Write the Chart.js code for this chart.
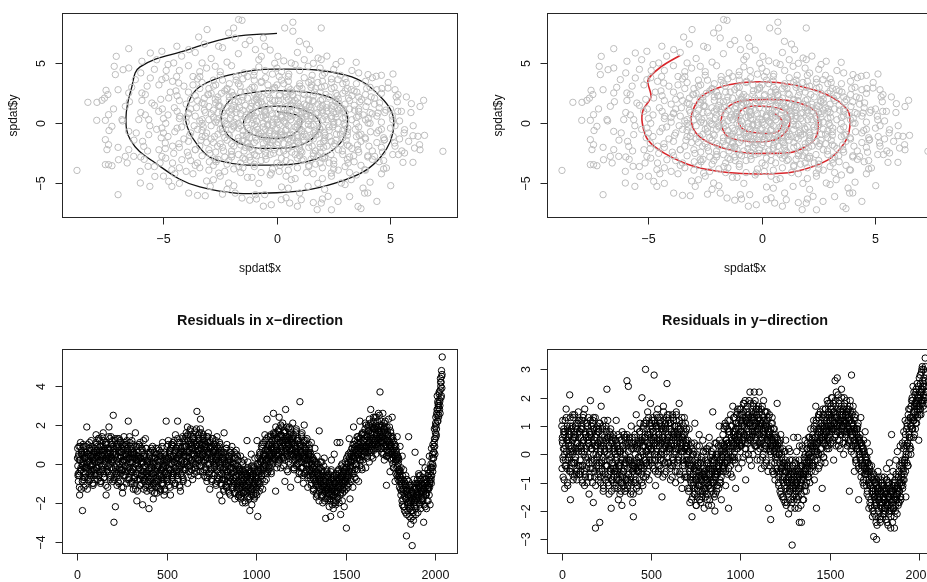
<!DOCTYPE html>
<html>
<head>
<meta charset="utf-8">
<script src="https://cdn.jsdelivr.net/npm/chart.js@4.4.1/dist/chart.umd.min.js"></script>
<style>
  body { margin: 0; background: #fff; overflow: hidden; }
  #wrap { position: relative; width: 927px; height: 582px; overflow: hidden; background: #fff; }
  canvas { position: absolute; }
</style>
</head>
<body>
<div id="wrap">
  <canvas id="spiralFit" width="463" height="290" style="left:0;top:0"></canvas>
  <canvas id="curveFit" width="500" height="290" style="left:463px;top:0"></canvas>
  <canvas id="resX" width="463" height="292" style="left:0;top:290px"></canvas>
  <canvas id="resY" width="500" height="292" style="left:463px;top:290px"></canvas>
</div>
<script>
// point cloud (spdat$x, spdat$y)
const cloudPts = [
  [-8.81,-3.92],[-8.33,1.75],[-7.93,1.75],[-7.71,1.92],[-7.6,2.1],[-7.45,2.4],[-7.53,2.75],[-7.94,0.25],[-7.56,0.25],[-7.42,0.72],
  [-7.27,-0.25],[-7.56,-1.36],[-7.42,-1.78],[-7.49,-2.19],[-7.42,-3.44],[-7.27,-3.53],[-7.56,-3.44],[-6.98,-3.03],[-7.0,-5.94],[-7.12,4.06],
  [-7.08,5.58],[-7.17,4.75],[-6.78,4.47],[-6.53,4.61],[-6.53,6.22],[-6.24,3.64],[-6.53,2.53],[-6.68,1.42],[-6.83,0.31],[-6.53,-0.67],
  [-6.53,-2.19],[-6.68,-2.75],[-6.31,-2.75],[-6.02,-4.0],[-6.02,-4.97],[-5.6,-5.25],[-5.38,-4.42],[-5.68,-3.58],[-5.87,-1.92],[-5.65,-0.94],
  [-6.09,0.31],[-5.65,0.31],[-5.51,1.69],[-5.95,2.53],[-5.58,3.78],[-5.95,5.17],[-5.58,5.86],[-5.07,6.0],[-4.55,5.03],[-4.41,6.42],
  [-5.07,3.64],[-4.77,2.11],[-5.21,1.0],[-5.07,-0.39],[-4.92,-1.64],[-5.07,-2.75],[-4.63,-3.86],[-4.77,-4.83],[-3.89,-5.81],[-3.16,-6.03],
  [-3.6,-2.19],[-3.89,0.86],[-4.33,3.36],[-3.45,7.19],[-3.08,7.81],[-3.89,6.14],[-3.3,5.03],[-2.72,4.75],[-2.13,7.53],[-1.91,7.94],
  [-1.69,8.64],[-1.54,8.58],[-1.84,7.11],[-2.57,6.42],[-1.4,6.56],[-0.95,6.14],[-3.01,2.39],[-2.57,1.42],[-3.16,-1.08],[-2.72,-3.03],
  [-2.57,-4.14],[-2.13,-4.97],[-1.54,-6.22],[-1.84,-5.81],[-0.95,-5.94],[-2.57,0.03],[-3.3,0.31],[-4.19,-3.03],[-4.63,-5.25],[-2.94,-5.25],
  [0.7,8.42],[0.34,7.94],[0.7,7.67],[1.95,7.94],[0.99,6.83],[1.44,6.14],[1.81,5.44],[1.95,5.31],[2.83,5.17],[3.49,5.08],
  [5.11,4.11],[4.37,3.92],[4.01,4.06],[4.89,2.94],[5.33,2.39],[5.92,1.64],[6.46,1.92],[5.48,1.0],[5.62,-0.53],[5.99,-1.03],
  [6.21,-1.08],[6.28,-1.78],[6.06,-2.06],[5.62,-2.47],[5.55,-3.25],[5.99,-3.25],[7.31,-2.33],[5.01,-5.19],[4.82,-3.72],[4.3,-2.75],
  [3.86,-3.86],[3.57,-2.19],[3.27,-4.69],[3.79,-5.39],[3.86,-5.81],[3.57,-6.92],[2.69,-6.5],[2.25,-6.08],[1.95,-6.64],[1.77,-7.19],
  [1.07,-6.36],[0.56,-6.64],[0.19,-6.36],[-0.25,-6.78],[-0.54,-5.94],[2.83,-4.97],[3.13,-3.31],[2.39,-4.14],[2.1,-2.75],[1.37,-5.25],
  [0.63,-4.69],[-0.25,-4.14],[4.45,0.86],[4.01,0.03],[4.74,-1.36],[5.18,-1.64],[3.72,1.97],[3.27,2.81],[2.69,3.64],[2.1,4.19],
  [1.37,4.75],[0.63,5.03],[0.04,5.58],[-0.54,6.42],[-0.69,5.58],
  [-4.2,5.6],[-3.6,5.9],[-2.9,5.4],[-2.4,6.3],[-1.7,5.8],[-1.2,6.9],[-0.8,5.3],[-0.3,6.1],[0.3,5.2],[0.9,5.9],
  [1.6,5.0],[2.2,5.6],[-5.3,5.3],[-4.8,4.9],[-3.2,6.6],[-0.6,7.1],[1.3,6.6],[2.6,4.9],
  [-6.0,4.2],[-5.4,4.5],[-4.9,3.8],[-4.3,4.4],[-3.7,3.9],[-3.1,4.6],[-2.5,4.0],[-2.0,4.8],[-1.5,3.7],[-1.0,4.3],
  [-0.5,3.8],[0.0,4.6],[0.5,3.9],[1.0,4.4],[1.5,3.6],[2.0,4.0],[2.5,4.5],[3.0,3.7],[3.6,4.2],[4.2,3.8],
  [4.6,4.0],[-2.8,3.6],[-0.2,4.1],[1.2,3.8],[3.3,4.4],[-3.9,4.8],[-1.8,3.9],
  [-7.0,2.8],[-6.4,3.0],[-5.8,2.4],[-5.2,3.2],[-4.7,2.6],[-4.1,3.1],[-3.6,2.3],[-3.0,2.9],[-2.6,2.2],[-2.1,3.3],
  [-1.6,2.6],[-1.1,3.0],[-0.7,2.2],[-0.2,2.8],[0.3,3.3],[0.7,2.4],[1.1,2.9],[1.6,2.3],[2.1,3.1],[2.6,2.5],
  [3.1,2.9],[3.6,2.2],[4.1,3.0],[4.6,2.5],[5.2,2.8],[5.7,2.2],[-1.3,2.1],[0.1,2.3],[1.4,3.4],[2.9,3.3],
  [-3.3,3.4],[-0.4,3.2],[0.9,2.1],[3.9,2.4],[-2.3,2.7],[1.9,2.6],
  [-7.2,1.2],[-6.5,1.8],[-6.0,0.9],[-5.4,1.5],[-4.8,0.7],[-4.3,1.9],[-3.8,1.2],[-3.3,1.7],[-2.9,0.8],[-2.5,1.4],
  [-2.1,1.9],[-1.8,0.9],[-1.4,1.5],[-1.0,0.6],[-0.7,1.8],[-0.3,1.1],[0.1,1.6],[0.4,0.8],[0.8,1.9],[1.1,1.2],
  [1.5,0.6],[1.8,1.6],[2.2,1.0],[2.6,1.8],[3.0,0.9],[3.4,1.5],[3.8,0.7],[4.3,1.6],[4.8,1.1],[5.3,1.8],
  [5.9,0.9],[6.3,1.4],[-0.5,0.7],[0.6,1.4],[1.4,1.9],[2.4,0.6],[-1.2,1.2],[-2.3,0.6],[3.2,1.9],[-3.6,0.6],
  [0.2,0.5],[1.9,1.3],[-0.9,1.5],[2.8,1.3],
  [-7.4,-0.6],[-6.8,0.2],[-6.2,-0.8],[-5.6,-0.2],[-5.0,0.4],[-4.5,-0.7],[-4.0,0.1],[-3.5,-0.5],[-3.0,0.3],[-2.6,-0.9],
  [-2.2,-0.1],[-1.8,0.4],[-1.5,-0.6],[-1.1,0.0],[-0.7,-0.8],[-0.4,0.3],[0.0,-0.4],[0.3,0.2],[0.7,-0.7],[1.0,0.1],
  [1.4,-0.5],[1.7,0.4],[2.1,-0.8],[2.5,-0.1],[2.9,-0.6],[3.3,0.3],[3.7,-0.9],[4.1,0.0],[4.6,-0.5],[5.1,0.3],
  [5.6,-0.8],[6.0,-0.2],[6.5,-1.0],[-0.1,-0.9],[0.5,-0.2],[1.2,-0.9],[-0.9,-0.3],[2.2,0.3],[-2.0,-0.5],[3.0,-0.2],
  [-3.8,-0.8],[1.6,-0.1],[-1.3,-0.9],[0.9,0.4],
  [-7.0,-2.0],[-6.3,-1.4],[-5.7,-2.3],[-5.1,-1.2],[-4.6,-1.9],[-4.1,-1.3],[-3.6,-2.2],[-3.1,-1.6],[-2.7,-2.4],[-2.3,-1.2],
  [-1.9,-1.9],[-1.5,-1.4],[-1.1,-2.2],[-0.7,-1.1],[-0.3,-1.8],[0.1,-1.3],[0.5,-2.1],[0.9,-1.5],[1.3,-1.1],[1.7,-2.3],
  [2.1,-1.4],[2.5,-1.9],[2.9,-1.2],[3.3,-2.1],[3.7,-1.5],[4.2,-2.3],[4.7,-1.2],[5.2,-1.9],[5.8,-1.5],[6.3,-2.2],
  [-0.5,-2.4],[0.3,-1.7],[1.1,-2.4],[-1.3,-1.6],[2.3,-1.1],[-2.5,-1.7],[3.5,-1.1],[0.7,-1.2],[-0.1,-2.2],[1.9,-1.7],
  [-6.6,-3.3],[-6.0,-2.8],[-5.4,-3.6],[-4.9,-2.9],[-4.3,-3.7],[-3.8,-3.1],[-3.3,-2.7],[-2.8,-3.5],[-2.3,-2.8],[-1.9,-3.8],
  [-1.4,-3.0],[-1.0,-3.6],[-0.5,-2.7],[0.0,-3.3],[0.5,-3.9],[0.9,-2.9],[1.4,-3.5],[1.8,-2.7],[2.3,-3.3],[2.7,-3.9],
  [3.2,-2.8],[3.7,-3.5],[4.2,-3.0],[4.7,-3.8],[5.1,-2.6],[-0.2,-3.8],[1.1,-3.1],[-1.7,-2.6],[2.0,-3.7],[-3.0,-3.9],
  [-5.0,-4.4],[-4.3,-5.0],[-3.7,-4.2],[-3.1,-4.8],[-2.5,-4.4],[-1.9,-5.2],[-1.3,-4.5],[-0.8,-5.0],[-0.3,-4.3],[0.2,-5.3],
  [0.8,-4.6],[1.3,-4.1],[1.8,-5.0],[2.4,-4.4],[3.0,-5.1],[3.5,-4.3],[4.1,-4.9],[4.6,-4.2],[-1.6,-4.1],[0.5,-5.4],
  [2.1,-5.5],[-2.2,-5.5],
  [-3.5,-6.0],[-2.4,-5.9],[-1.2,-6.4],[-0.6,-6.9],[0.4,-6.2],[1.0,-5.8],[1.6,-6.6],[2.4,-7.2],[3.2,-6.1],[3.7,-7.1],
  [2.0,-6.3],[-0.9,-6.3],[0.9,-6.9],[4.0,-5.8],[4.4,-6.5],
  [-2.8,1.1],[-2.4,-0.4],[-2.0,1.2],[-1.7,-1.2],[-1.6,0.8],[-1.3,0.3],[-1.0,-1.6],[-0.8,2.4],[-0.6,0.0],[-0.4,-1.3],
  [-0.2,1.9],[0.0,0.8],[0.2,-0.7],[0.4,1.9],[0.6,-1.5],[0.8,0.7],[1.0,-0.4],[1.2,1.6],[1.4,0.2],[1.6,-1.3],
  [1.8,0.9],[2.0,-0.3],[2.2,1.6],[2.4,-1.5],[2.6,0.5],[2.8,-0.9],[-2.6,1.9],[-2.2,-1.4],[-1.9,0.1],[-1.5,2.2],
  [-1.2,-0.6],[-0.9,0.9],[-0.5,-0.5],[-0.1,0.4],[0.3,-1.1],[0.6,0.6],[1.0,-1.8],[1.3,0.8],[1.7,-0.7],[2.0,2.0],
  [2.3,-0.6],[2.7,1.1],[-2.9,-1.3],[-0.3,-1.6],[0.7,2.3],[1.5,1.1],[-1.4,-2.0],[0.1,-2.4],[-2.1,2.2],[2.9,0.4],
  [-0.7,0.5],[0.4,0.0],[1.1,0.5],[-1.6,-0.2],[0.9,-1.0],[-0.2,-0.2],[2.5,1.4],[-2.7,0.1],[1.9,-2.0],[-1.0,1.9],
  [-3.4,2.9],[-2.7,3.2],[-2.2,2.9],[-1.7,3.3],[-1.2,2.8],[-0.7,3.4],[-0.1,3.0],[0.5,3.5],[1.0,3.1],[1.5,3.0],
  [2.0,3.5],[2.4,2.9],[3.4,2.7],[4.4,2.8],[-3.9,2.6],[0.2,3.6],[-1.0,3.6],[1.8,3.4],
  [-4.4,2.3],[-3.2,2.1],[-2.9,2.5],[-1.9,2.3],[-1.0,2.5],[-0.4,2.4],[0.4,2.6],[1.2,2.4],[1.7,2.9],[2.3,2.2],
  [2.9,2.5],[3.3,2.3],[4.3,2.1],[-0.9,2.0],[0.6,2.8],[2.7,2.0],[-2.0,2.6],[1.4,2.0],
  [-4.0,1.6],[-3.5,1.9],[-3.0,1.4],[-2.7,1.7],[-2.2,1.3],[-1.7,1.8],[-1.1,1.7],[-0.5,1.4],[-0.1,1.9],[0.3,1.3],
  [0.7,1.7],[1.0,1.4],[1.6,1.8],[2.0,1.5],[2.4,1.2],[3.0,1.6],[3.6,1.2],[4.0,1.8],[4.5,1.3],[-0.3,1.6],
  [1.3,1.5],[-1.9,1.5],[0.5,2.0],[2.7,1.7],
  [-4.4,1.0],[-3.9,0.8],[-3.2,1.1],[-2.6,0.9],[-2.0,0.7],[-1.5,1.1],[-1.1,0.9],[-0.7,1.2],[-0.2,0.8],[0.3,1.1],
  [0.6,0.9],[1.2,1.0],[1.7,0.8],[2.0,1.1],[2.5,0.9],[3.2,1.2],[3.6,1.0],[4.2,0.8],[5.0,1.2],[-0.5,1.0],
  [0.9,1.1],[1.5,1.3],[-1.8,1.2],[2.9,1.0],
  [-4.9,0.0],[-4.3,0.4],[-3.4,0.2],[-2.8,0.5],[-2.3,0.2],[-1.7,0.0],[-1.4,0.5],[-0.9,0.2],[-0.6,0.6],[-0.2,0.1],
  [0.2,0.7],[0.6,0.3],[0.9,-0.1],[1.3,0.6],[1.8,0.2],[2.1,0.6],[2.7,0.1],[3.5,0.5],[3.9,0.3],[4.4,0.6],
  [5.4,0.2],[-0.4,-0.1],[1.1,0.3],[2.4,0.4],[-1.2,0.6],[0.0,0.3],
  [-5.3,-0.5],[-4.2,-0.3],[-3.3,-0.6],[-2.9,-0.2],[-2.4,-0.7],[-1.9,-0.3],[-1.3,-0.4],[-1.0,-0.7],[-0.6,-0.3],[-0.3,-0.6],
  [0.1,-0.1],[0.4,-0.5],[0.8,-0.3],[1.1,-0.6],[1.5,-0.2],[1.9,-0.5],[2.3,-0.3],[2.7,-0.5],[3.1,-0.7],[3.6,-0.3],
  [4.4,-0.8],[5.0,-0.4],[-0.8,-0.9],[0.6,-0.9],[1.8,-0.9],
  [-4.8,-1.1],[-3.9,-1.5],[-3.3,-1.1],[-2.8,-1.6],[-2.1,-1.0],[-1.7,-1.5],[-1.2,-1.2],[-0.9,-1.4],[-0.5,-1.1],[-0.2,-1.4],
  [0.2,-1.0],[0.5,-1.3],[0.9,-1.2],[1.4,-1.6],[1.7,-1.0],[2.1,-1.2],[2.6,-1.4],[3.1,-1.0],[3.9,-1.3],[4.4,-1.6],
  [5.4,-1.3],[-0.1,-1.1],[1.2,-1.4],[-1.5,-1.0],[2.8,-1.7],
  [-5.2,-2.2],[-4.3,-2.0],[-3.4,-1.9],[-3.0,-2.2],[-2.4,-2.0],[-2.0,-2.3],[-1.6,-1.8],[-1.2,-2.0],[-0.8,-2.3],[-0.4,-2.0],
  [0.0,-1.8],[0.3,-2.3],[0.7,-1.9],[1.0,-2.1],[1.4,-2.0],[1.9,-2.4],[2.2,-1.9],[2.7,-2.2],[3.1,-1.8],[3.6,-2.4],
  [4.6,-2.0],[5.5,-2.3],[-0.6,-1.7],[1.6,-2.5],[-1.0,-2.6],[0.8,-2.6],
  [-4.6,-3.3],[-3.9,-2.7],[-3.5,-3.3],[-2.6,-3.0],[-2.0,-2.8],[-1.6,-3.3],[-1.2,-2.8],[-0.7,-3.1],[-0.3,-2.6],[0.2,-2.9],
  [0.6,-3.3],[1.0,-2.7],[1.5,-3.0],[2.0,-2.9],[2.5,-3.1],[2.9,-2.6],[3.4,-3.2],[4.0,-2.7],[4.5,-3.2],[-2.2,-3.4],
  [0.4,-2.6],[1.7,-3.4],[-1.0,-3.4],[3.0,-3.6],
  [-4.0,-4.0],[-3.4,-3.7],[-2.3,-4.0],[-1.5,-3.7],[-0.7,-4.1],[0.1,-4.0],[0.9,-3.7],[1.6,-4.2],[2.5,-3.8],[3.2,-4.1],
  [3.9,-3.9],[-1.1,-4.5],[0.4,-4.4],[2.0,-4.6],[-2.8,-4.7],
  [-4.6,3.5],[-3.5,3.7],[-2.4,3.6],[-1.3,3.9],[-0.8,4.7],[0.2,4.3],[0.8,4.9],[1.9,4.6],[2.8,4.0],[3.9,3.5],
  [-2.2,5.1],[-0.1,5.0],[1.2,5.3],[-3.4,4.3],[2.4,3.4],[4.9,3.4],
  [-3.8,2.0],[-3.65,-0.2],[-3.95,-2.4],[-3.55,1.3],[-3.85,-1.0],[-3.7,3.2],[-4.0,0.5],[-3.6,-3.5],
  [-3.25,-0.3],[-3.05,2.4],[-3.35,-1.4],[-3.15,0.9],[-2.95,-2.5],[-3.4,3.9],[-3.1,-0.8],[-3.2,1.6],[-2.98,-3.2],[-3.3,0.0],
  [-2.65,0.3],[-2.45,2.5],[-2.75,-1.1],[-2.55,1.5],[-2.35,-2.3],[-2.8,3.1],[-2.5,-0.5],[-2.62,-1.9],[-2.4,0.9],[-2.68,-3.2],[-2.5,4.3],[-2.72,2.0],
  [-2.05,0.4],[-2.15,-0.9],[-1.85,1.8],[-2.0,-1.7],[-2.2,2.8],[-1.9,-0.2],[-2.1,1.0],[-2.0,-2.6],[-1.8,3.6],[-2.12,-3.1],[-2.25,0.0],[-1.95,2.3],
  [-1.5,0.2],[-1.35,-1.1],[-1.65,1.3],[-1.45,-2.3],[-1.4,2.6],[-1.7,-0.4],[-1.55,1.9],[-1.3,-1.7],[-1.62,3.1],[-1.5,-2.9],[-1.35,0.7],[-1.68,-3.6],[-1.45,4.2],
  [-1.05,0.3],[-0.85,-0.5],[-1.15,1.4],[-0.95,-1.2],[-0.88,2.2],[-1.2,-1.9],[-1.0,3.0],[-0.9,-2.7],[-1.12,0.8],[-0.98,-0.1],[-0.82,1.7],[-1.18,-3.1],[-1.02,4.0],
  [-0.5,0.4],[-0.35,-0.8],[-0.65,1.6],[-0.45,-1.5],[-0.38,2.7],[-0.62,-2.1],[-0.55,1.0],[-0.42,-0.2],[-0.68,3.5],[-0.48,-3.0],[-0.32,2.1],[-0.6,-1.1],[-0.52,4.4],
  [0.02,0.1],[0.15,-0.9],[-0.12,1.3],[0.05,-1.6],[0.12,2.4],[-0.15,-2.5],[0.0,3.2],[0.18,0.6],[-0.08,-0.5],[0.06,1.9],[0.14,-3.5],[-0.1,2.9],[0.03,-1.1],[0.1,3.9],
  [0.48,0.5],[0.38,-0.6],[0.62,1.5],[0.52,-1.8],[0.42,2.2],[0.65,-2.4],[0.5,3.0],[0.35,0.1],[0.58,-1.0],[0.45,1.1],[0.4,-3.1],[0.6,2.6],[0.52,4.1],
  [1.02,0.2],[1.12,-1.1],[0.92,1.7],[1.05,-2.3],[1.15,2.5],[0.88,-0.3],[1.0,3.3],[1.1,0.9],[0.95,-1.6],[1.04,1.3],[1.16,-3.0],[0.9,2.9],[1.08,-0.7],
  [1.5,0.4],[1.62,-0.8],[1.42,1.4],[1.55,-1.9],[1.65,2.6],[1.38,-0.1],[1.52,3.2],[1.6,-2.7],[1.45,0.9],[1.5,-1.2],[1.58,1.9],[1.4,-3.6],[1.55,4.0],
  [2.02,0.3],[2.12,-1.0],[1.92,1.9],[2.05,-2.0],[2.15,2.4],[1.88,-0.4],[2.0,0.9],[2.1,-2.9],[1.95,3.0],[2.05,-1.5],[2.18,1.3],[1.9,-3.3],
  [2.5,0.1],[2.62,-0.9],[2.42,1.5],[2.55,-1.7],[2.65,2.3],[2.38,-2.6],[2.52,3.0],[2.6,0.8],[2.45,-0.3],[2.5,-3.4],[2.58,1.9],[2.4,3.7],
  [3.02,0.5],[3.12,-0.4],[2.92,1.2],[3.05,-1.4],[3.15,2.1],[2.88,-2.3],[3.0,2.7],[3.1,-3.0],[2.95,0.0],[3.05,3.4],[3.18,-1.9],
  [3.5,0.0],[3.62,-1.0],[3.42,1.1],[3.55,-1.8],[3.65,1.8],[3.38,-2.7],[3.52,2.6],[3.6,0.6],[3.45,-0.5],[3.5,3.3],
  [4.02,0.4],[4.12,-0.7],[3.92,1.4],[4.05,-1.9],[4.15,2.2],[3.88,-1.2],[4.0,-2.8],[4.1,0.9],[3.95,2.9],
  [4.6,0.1],[4.72,-1.4],[4.52,1.7],[4.65,-2.4],[4.75,0.9],[4.48,-0.6],[4.62,2.9],[4.7,-3.1],
  [5.2,-0.2],[5.32,1.0],[5.12,-1.1],[5.25,2.2],[5.35,-2.6],[5.08,0.6],
  [-4.4,-0.4],[-4.52,1.3],[-4.32,-1.7],[-4.45,2.7],[-4.55,-2.5],[-4.28,0.6],[-4.42,3.9],[-4.5,-4.2],
  [-5.0,-0.8],[-5.12,2.0],[-4.92,-2.1],[-5.05,1.2],[-5.15,-3.3],[-4.88,4.4],
  [-5.8,0.7],[-5.92,-1.5],[-5.72,3.1],[-5.85,-3.0],[-5.95,1.9]
];

// true spiral (black), from the inner end outwards
const spiralPts = [
  [0,0.97],[0.88,0.66],[1.11,0.1],[0.73,-0.9],[0,-1.25],[-1.1,-0.9],[-1.48,0],[-1.04,1.05],[0,1.44],[1.2,1.1],
  [1.9,0],[1.35,-1.55],[0,-2.08],[-1.63,-1.67],[-2.44,0],[-2.07,1.94],[-1.1,2.55],[0,2.72],[2.04,2.36],[2.9,1.4],
  [3.11,0],[2.78,-1.67],[1.73,-2.95],[0,-3.47],[-2.66,-3.06],[-3.55,-1.67],[-4.02,0.2],[-3.9,1.7],[-3.4,3.05],[-1.92,4.1],
  [0,4.52],[3.07,4.0],[4.57,2.2],[5.15,0],[4.57,-2.8],[3.0,-4.7],[0,-5.78],[-3.4,-5.3],[-5.55,-3.06],[-6.45,-1.4],
  [-6.65,0.5],[-6.4,3.0],[-6.03,4.7],[-3.97,6.1],[-1.92,7.2],[0,7.5]
];

// fitted principal curve (red), from the outer end inwards
const fitPts = [
  [-3.6,5.67],[-4.44,4.72],[-5.02,3.6],[-4.89,2.2],[-5.24,1.1],[-5.27,0],[-5.02,-1.39],[-4.29,-2.5],[-2.98,-3.6],[-1.51,-4.1],
  [-0.04,-4.22],[1.42,-4.03],[2.89,-3.06],[3.62,-1.67],[3.87,-0.28],[3.77,1.1],[2.89,2.36],[1.42,3.19],[-0.04,3.47],[-1.51,3.19],
  [-2.68,2.2],[-3.12,0.55],[-2.9,-0.83],[-2.1,-1.81],[-0.78,-2.45],[0.25,-2.5],[1.42,-2.36],[2.3,-1.39],[2.48,0],[2.3,1.1],
  [1.42,1.8],[0.25,2.0],[-1.07,1.8],[-1.65,1.1],[-1.8,0],[-1.51,-1.11],[-0.48,-1.53],[0.54,-1.39],[1.05,-0.7],[1.25,0.28],
  [0.98,1.1],[-0.34,1.44],[-0.92,1.1],[-1.04,0.14],[-0.78,-0.56],[-0.04,-0.83],[0.69,-0.7],[0.91,0],[0.76,0.55],[0.54,0.83]
];

// residuals read every RES_STEP observations: set a starts at obs 1, b at 3, c at 2, d at 4
const RES_STEP = 4;
const residualsXa = [
  0.3,-0.5,0.9,-1.6,0.2,-0.3,0.5,-2.4,0.1,-1.2,0.6,-0.2,0.4,1.9,-0.7,0.3,-0.9,0.8,0.0,-0.4,0.7,-1.0,0.2,0.5,-0.3,
  0.6,1.5,-0.2,0.9,0.1,-0.6,1.2,0.4,-0.9,0.7,0.2,1.6,-0.4,0.5,1.0,-1.6,0.3,0.8,-0.1,1.9,0.6,-0.7,1.4,0.2,-0.3,
  2.5,-3.0,0.4,-2.2,0.9,-0.5,1.3,0.1,-1.0,0.6,1.1,-0.3,0.8,-1.5,0.2,1.4,-0.6,0.5,1.0,-0.2,0.7,2.2,-0.8,0.3,0.9,
  -0.4,1.2,0.1,-1.3,0.6,-0.7,1.6,0.0,-1.9,0.4,-0.3,1.0,-1.1,0.3,-0.6,0.8,-2.1,0.1,-0.8,0.5,1.3,-0.4,-1.4,0.2,-0.9,
  -2.3,-0.2,0.6,-1.2,-0.5,0.9,-1.8,-0.1,0.3,-0.9,0.5,-1.5,-0.3,0.8,-0.6,0.1,-1.3,0.4,-0.7,1.1,-0.2,-1.6,0.6,-0.4,2.2,
  0.2,-0.9,1.2,-0.3,0.7,-1.6,0.4,1.0,-0.5,0.9,0.1,-1.1,1.5,0.3,-0.6,2.2,0.6,-0.2,1.1,-1.4,0.8,0.0,1.4,-0.8,0.5,
  0.9,-0.3,1.6,0.4,-1.0,1.2,0.6,-0.4,1.8,0.2,0.9,-0.8,1.4,0.5,1.7,-0.2,1.0,2.7,0.3,-0.6,1.3,0.7,2.3,-0.1,1.1,
  0.5,1.5,-0.3,0.9,0.2,1.2,-0.9,0.6,1.6,0.0,-1.3,0.8,0.3,-0.5,1.3,0.6,-0.2,1.0,-1.0,0.4,1.4,-0.7,0.1,0.9,-1.6,
  -0.2,0.6,-1.9,0.2,-0.7,1.6,-0.3,0.4,-1.2,1.0,-0.6,0.1,-1.5,0.6,-0.9,-0.2,0.9,-1.1,-0.4,0.3,-1.8,-0.6,0.7,-1.3,-0.1,
  -0.9,-1.6,-0.3,0.4,-1.2,-0.6,-2.0,-0.8,0.2,-1.4,-0.5,-1.1,1.2,-1.7,-0.3,-0.9,-2.4,-0.6,0.5,-1.3,-0.2,-1.0,-1.8,0.3,-0.7,
  -1.2,1.2,-2.7,-0.4,0.4,-1.0,0.1,-0.6,0.8,-1.3,0.5,-0.2,1.5,0.2,-0.8,2.3,0.7,-0.3,1.0,0.3,1.4,-0.5,0.8,0.1,2.6,
  0.6,1.3,-1.4,0.9,0.4,1.7,0.2,2.4,1.1,-0.2,1.5,0.7,2.1,0.3,1.2,-0.9,2.8,0.8,1.4,-0.4,1.0,1.9,0.5,-1.2,1.3,
  0.7,2.1,1.5,-0.2,0.9,0.3,1.8,0.6,-0.8,1.2,0.1,3.2,0.9,-0.5,1.6,0.4,-1.0,2.0,0.2,0.8,-0.3,1.3,-1.2,0.5,0.0,
  0.6,-0.8,1.1,-0.4,0.2,-1.3,-0.1,0.8,-0.9,-1.7,0.4,-0.5,-1.2,1.7,-0.8,0.1,-1.6,-0.3,-2.0,-0.9,0.3,-1.4,-2.8,-0.6,-1.1,
  -1.8,-0.5,-2.2,-1.0,-2.7,0.2,-1.4,-0.8,-1.9,0.5,-1.2,-2.1,-0.6,1.1,-1.5,-0.3,-1.0,1.1,-2.6,-0.7,0.0,-1.3,-0.4,-2.2,-0.9,
  -0.2,-3.3,-1.1,0.4,-0.6,1.3,-1.8,0.1,-0.4,0.8,-1.2,1.9,0.3,-0.7,0.9,-0.1,1.4,0.5,-0.9,1.0,2.2,0.2,1.5,-0.3,0.7,
  1.2,0.4,1.8,-0.2,0.9,1.5,0.6,2.0,0.1,1.1,2.8,0.7,1.6,0.3,2.2,1.0,1.8,0.5,2.4,1.3,0.8,1.9,1.4,3.7,1.1,
  1.7,0.6,2.6,1.2,0.2,1.9,0.9,-1.1,1.5,0.4,2.3,1.0,-0.4,1.6,0.7,2.4,0.0,1.2,0.5,-0.9,0.9,0.2,1.4,-0.5,0.3,
  -0.6,0.9,-0.9,-1.4,0.4,-1.8,-0.3,-2.2,-1.0,-0.6,-3.7,-1.5,-2.4,1.4,-1.1,-2.0,-3.1,-1.4,-4.2,-2.7,-0.8,-1.9,0.6,-2.3,-1.2,
  -1.6,-2.5,-0.5,-1.1,-2.1,-0.8,-1.4,0.1,-1.9,-3.0,-1.0,-0.2,-1.6,-2.3,-0.9,-0.3,-1.3,0.4,-2.1,-0.6,0.8,-0.2,1.0,0.3,1.8,
  1.3,2.4,1.8,3.5,2.2,2.9,3.3,2.6,4.0,4.8,5.5
];
const residualsXb = [
  -0.1,0.4,-0.6,0.2,-0.3,0.7,0.0,-0.8,0.5,-0.2,0.3,-0.5,0.6,0.1,-0.4,0.2,0.8,-0.1,0.4,-0.6,0.3,0.0,-0.3,0.6,0.1,
  0.3,-0.2,0.7,0.1,0.5,-0.4,0.9,0.2,-0.1,0.6,0.4,-0.5,0.8,0.0,0.3,1.1,-0.3,0.5,0.2,0.7,-0.2,0.4,1.0,0.1,0.6,
  0.2,0.8,-0.4,0.5,0.0,-0.6,0.4,0.9,-0.2,0.3,-0.5,0.6,0.1,-0.3,0.7,0.2,-0.1,1.0,0.4,-0.4,0.3,0.6,-0.2,0.1,0.5,
  0.1,-0.4,0.5,-0.2,0.3,-0.7,0.0,0.4,-0.5,-0.1,0.2,-0.8,0.3,-0.3,-0.6,0.1,-0.2,0.4,-0.9,-0.1,0.2,-0.5,0.0,-0.7,-0.3,
  -0.6,0.0,-0.9,-0.2,0.3,-0.5,-1.1,-0.3,0.1,-0.7,-0.4,0.2,-0.8,-0.1,-0.5,0.4,-0.3,-1.0,-0.2,0.0,-0.6,0.2,-0.4,-0.1,-0.7,
  -0.2,0.3,-0.5,0.6,0.0,-0.3,0.8,0.2,-0.6,0.4,0.1,-0.2,0.7,-0.4,0.3,0.0,0.9,-0.1,0.5,-0.5,0.2,0.6,-0.3,0.4,0.1,
  0.4,0.9,0.1,0.6,1.2,0.3,0.7,-0.1,1.0,0.5,0.2,0.8,1.3,0.4,0.0,0.9,0.6,1.1,0.2,0.7,1.6,0.5,0.3,0.8,1.0,
  0.6,0.2,0.9,0.4,-0.2,0.7,0.3,1.1,0.0,0.5,0.8,-0.3,0.4,0.9,0.1,0.6,-0.1,0.3,0.7,0.0,0.5,-0.4,0.2,0.6,-0.2,
  0.1,-0.5,0.3,-0.8,-0.2,0.2,-0.6,0.0,-0.4,-0.9,-0.1,0.3,-0.7,-0.3,0.1,-0.5,-0.8,-0.2,-1.0,-0.4,0.0,-0.7,-0.3,-1.1,-0.5,
  -0.6,-1.2,-0.4,-0.9,-1.5,-0.7,-0.3,-1.1,-0.8,-1.4,-0.5,-1.0,-0.6,-1.3,-0.9,-0.4,-1.2,-0.7,-1.6,-0.8,-0.5,-1.1,-0.3,-0.9,-0.6,
  -0.7,-0.3,-0.9,0.0,-0.5,-0.2,0.2,-0.6,0.3,-0.1,0.5,0.0,0.4,0.7,-0.2,0.6,0.2,0.9,0.4,0.1,0.8,0.5,1.0,0.3,0.7,
  0.8,1.2,0.5,1.0,0.7,1.4,0.4,1.1,0.9,1.5,0.6,1.2,0.3,1.0,1.6,0.8,1.3,0.5,1.1,0.9,1.4,0.7,1.2,0.4,1.0,
  1.1,0.7,0.4,0.9,0.2,0.8,1.2,0.5,0.0,0.7,0.3,0.9,0.5,0.1,0.6,-0.2,0.4,0.8,0.0,0.3,0.6,-0.1,0.2,0.5,-0.3,
  0.2,-0.3,0.0,-0.6,-0.2,-0.8,-0.4,0.1,-0.7,-1.0,-0.5,-0.9,-0.3,-1.2,-0.6,-0.9,-0.4,-1.3,-0.8,-1.1,-0.6,-1.4,-0.9,-1.2,-0.7,
  -1.3,-1.0,-1.6,-1.2,-0.8,-1.5,-1.1,-1.7,-0.9,-1.3,-1.0,-1.5,-0.7,-1.2,-0.9,-0.5,-1.1,-0.8,-1.3,-0.4,-0.9,-0.6,-1.0,-0.3,-0.7,
  -0.5,-0.2,-0.8,0.0,-0.4,0.3,-0.1,0.5,0.1,-0.3,0.6,0.2,0.8,0.4,0.0,0.7,0.5,1.0,0.3,0.8,0.6,1.1,0.4,0.9,0.7,
  0.9,1.3,0.6,1.1,0.8,1.4,1.0,1.7,0.7,1.2,1.5,0.9,1.3,1.8,1.1,1.6,1.2,1.9,1.4,1.0,1.7,1.3,2.0,1.5,1.2,
  1.4,1.1,1.8,0.9,1.3,1.6,1.0,0.7,1.2,1.5,0.8,1.1,0.5,0.9,1.3,0.6,0.3,0.8,0.4,0.1,0.6,-0.2,0.3,0.0,-0.4,
  -0.3,-0.7,-0.2,-1.1,-0.6,-1.3,-0.9,-1.6,-1.2,-1.8,-1.4,-2.0,-1.6,-1.1,-1.9,-2.2,-1.5,-1.8,-2.4,-1.6,-2.0,-1.3,-1.7,-2.1,-1.5,
  -1.4,-1.0,-1.7,-1.2,-0.9,-1.5,-1.1,-1.8,-1.3,-1.0,-1.4,-1.2,-1.6,-0.9,-1.3,-1.1,-0.7,-1.0,-0.4,-0.8,-0.2,0.0,0.3,0.6,0.9,
  1.6,2.0,2.5,2.8,3.0,3.6,3.2,4.4,4.2,3.9
];
const residualsXc = [
  0.8,-0.9,0.2,-0.4,1.1,-1.3,0.5,-0.1,0.9,-0.7,0.3,-1.1,0.6,-0.2,1.0,-0.8,0.1,0.7,-0.5,1.2,-0.3,0.4,-1.0,0.8,-0.6,
  -0.5,1.0,0.4,-0.8,1.3,-0.1,0.7,-1.0,0.5,1.4,-0.3,0.9,-0.7,0.2,1.1,-0.4,0.6,-1.2,0.8,0.0,1.3,-0.6,0.3,1.0,-0.9,
  0.9,-0.7,1.2,-0.2,0.5,-1.1,0.8,-0.4,1.3,0.0,-0.9,0.6,-0.3,1.0,-1.2,0.4,0.9,-0.6,0.2,1.2,-0.8,0.5,-0.2,1.1,-1.0,
  0.7,-1.0,0.3,1.0,-0.6,0.5,-1.3,0.2,0.9,-0.8,0.4,-0.2,1.1,-1.1,0.0,0.6,-0.7,1.2,-0.4,0.3,-1.2,0.8,-0.5,0.1,-0.9,
  -1.1,0.4,-0.7,0.8,-1.4,0.1,-0.5,0.6,-1.0,0.3,-1.2,0.5,-0.2,-0.9,0.7,-1.3,0.2,-0.6,0.9,-1.0,-0.1,0.5,-1.4,0.3,-0.8,
  0.9,-0.8,0.3,-1.1,0.7,-0.3,1.0,-0.9,0.4,-0.5,1.2,-1.0,0.2,0.8,-0.6,1.1,-0.4,0.5,-1.2,0.6,-0.1,1.3,-0.7,0.0,0.9,
  1.3,-0.2,0.9,0.0,1.5,-0.4,0.8,1.7,0.1,1.1,-0.3,1.4,0.5,-0.5,1.2,0.3,1.8,-0.1,0.7,1.5,0.2,1.0,-0.4,1.6,0.4,
  -0.4,1.2,0.1,1.0,-0.7,0.8,0.3,1.4,-0.5,0.6,1.1,-0.2,0.9,-0.8,1.3,0.0,0.7,-0.5,1.2,0.2,-0.9,0.8,0.4,-0.6,1.0,
  -1.0,0.5,-0.8,0.3,-1.3,0.6,-0.2,-1.1,0.8,-0.6,0.2,-1.4,0.4,-0.9,0.7,-0.5,-1.2,0.1,-0.7,0.6,-1.5,-0.1,0.5,-1.0,0.2,
  -1.6,-0.2,-1.1,-1.8,-0.4,-0.9,0.0,-1.5,-0.6,-1.9,-0.3,-1.2,-0.7,0.1,-1.4,-0.5,-1.7,-0.8,-0.1,-1.3,-0.6,-1.6,-0.2,-1.0,-1.5,
  -0.4,-1.1,0.3,-0.7,-1.4,0.5,-0.3,0.9,-0.8,0.2,1.1,-0.5,0.7,-0.1,1.3,0.3,-0.4,1.0,0.6,-0.2,1.5,0.4,1.2,0.0,1.6,
  1.5,0.2,1.9,0.7,1.3,0.0,1.7,0.5,1.1,2.0,0.3,1.4,0.9,-0.1,1.6,0.6,1.2,1.9,0.4,1.0,0.1,1.5,0.8,1.8,0.5,
  0.2,1.4,-0.2,1.0,0.5,1.6,-0.1,0.8,1.3,0.3,-0.4,1.1,0.6,1.5,-0.2,0.9,0.3,1.2,-0.5,0.7,0.0,1.0,-0.6,0.4,0.8,
  -0.6,0.5,-1.0,-0.2,0.3,-1.3,-0.5,0.1,-1.1,-0.4,-1.6,0.0,-0.8,-1.4,-0.2,-1.0,-1.7,-0.6,-1.2,-0.1,-1.5,-0.9,-1.8,-0.4,-1.3,
  -0.6,-1.5,-0.9,-1.9,-0.4,-1.3,-2.1,-0.7,-1.6,-1.0,-2.0,-0.5,-1.4,-0.8,-1.8,-0.3,-1.2,-1.6,-0.6,-1.1,-1.9,-0.2,-0.9,-1.4,0.1,
  -0.9,0.3,-0.6,-1.2,0.1,-0.4,0.6,-0.8,0.4,-0.1,1.0,-0.5,0.7,1.2,0.0,0.9,-0.3,1.4,0.5,0.2,1.3,0.8,-0.2,1.6,0.9,
  1.6,0.6,2.1,0.9,1.4,0.3,1.9,1.1,2.3,0.8,1.6,0.4,2.0,1.2,0.7,1.8,2.4,1.0,1.5,2.2,0.9,1.7,2.5,1.3,1.9,
  0.8,2.0,1.4,0.5,1.8,2.2,1.0,0.4,1.7,1.2,0.6,1.9,0.9,1.4,0.2,1.1,0.7,-0.2,0.9,0.4,-0.5,0.5,-0.1,-0.8,0.2,
  -1.2,-0.4,-1.6,-1.0,-2.1,-0.8,-1.5,-2.4,-1.1,-1.8,-2.6,-1.3,-2.0,-0.9,-2.3,-1.6,-2.8,-1.9,-1.2,-2.5,-1.7,-2.2,-1.0,-2.6,-1.8,
  -0.8,-1.6,-1.2,-2.0,-0.6,-1.4,-1.9,-1.1,-0.5,-1.7,-1.3,-2.2,-0.8,-1.5,-1.1,-1.9,-0.5,-1.2,-0.9,0.0,-0.6,0.5,-0.1,0.9,1.3,
  1.9,1.4,2.6,2.2,3.1,2.5,2.8,3.8,3.4,4.5
];
const residualsXd = [
  -0.6,0.5,-1.2,0.9,-0.2,0.6,-0.9,1.0,-0.4,0.3,-0.7,0.9,0.0,-1.3,0.5,-0.3,1.1,-0.8,0.4,-0.1,0.9,-1.1,0.6,-0.5,0.2,
  1.1,-0.6,0.6,-0.2,1.3,0.2,-0.9,0.9,-0.3,0.4,1.2,-0.7,0.7,0.1,-1.1,1.0,0.4,-0.4,1.4,0.3,-0.8,0.8,-0.2,1.2,0.5,
  -0.8,0.6,1.3,-0.5,0.2,1.0,-0.9,0.7,-0.3,1.2,0.4,-1.2,0.9,0.1,-0.6,1.1,-0.4,0.5,-1.0,0.8,0.0,-0.7,1.4,-0.3,0.6,
  -0.9,0.8,-0.3,0.5,-1.1,0.9,-0.5,0.2,-1.4,0.6,-0.2,0.9,-0.8,0.3,-1.0,0.7,-0.4,-1.3,0.4,-0.6,0.8,-1.1,0.1,-0.5,0.6,
  0.5,-1.3,-0.1,-0.8,0.7,-1.0,0.3,-1.5,-0.4,0.8,-0.9,-0.1,-1.2,0.5,-0.6,-1.4,0.6,-0.3,-1.1,0.2,-0.8,-1.3,0.4,-0.5,0.1,
  -0.6,1.0,-0.2,0.5,-1.2,0.8,0.0,-0.7,1.1,-0.4,0.6,-1.0,0.3,-0.3,1.3,-0.8,0.4,-1.1,0.7,0.1,-0.6,0.9,-0.9,0.6,1.2,
  -0.3,1.4,0.6,1.9,-0.1,1.0,0.3,1.5,-0.6,0.8,1.3,0.0,1.1,-0.2,0.7,1.6,-0.4,0.9,0.5,1.2,-0.1,1.8,0.8,0.1,1.4,
  1.3,-0.6,0.7,1.0,-0.3,1.4,-0.7,0.5,0.9,-0.4,1.2,0.2,-0.9,0.6,1.0,-0.6,0.8,0.2,-1.1,0.9,-0.3,0.6,-0.8,1.1,0.0,
  0.7,-1.1,-0.3,0.6,-1.4,0.1,-0.8,0.8,-1.2,-0.4,0.4,-1.0,0.2,-1.6,-0.2,0.5,-1.3,0.0,-0.9,-1.5,0.3,-0.6,-1.2,0.4,-1.7,
  -0.3,-1.3,-0.8,-1.7,0.1,-1.0,-1.5,-0.4,-1.2,-2.0,-0.7,-1.5,-0.2,-1.1,-1.8,-0.9,-0.4,-1.4,-2.1,-0.6,-1.2,-0.1,-1.7,-0.8,-1.3,
  -1.6,0.0,-1.0,-0.4,0.6,-1.2,0.1,-0.6,1.0,-0.3,0.4,-0.9,1.2,0.2,-0.5,0.8,1.4,-0.1,0.5,1.1,-0.4,0.9,0.2,1.4,0.6,
  0.3,1.6,0.9,-0.2,1.3,0.6,1.8,0.2,1.5,0.8,1.9,0.4,1.1,1.7,0.2,1.4,0.7,-0.3,1.2,1.8,0.6,1.3,0.0,1.6,1.1,
  1.3,0.4,-0.3,1.1,0.6,1.7,0.0,1.2,0.4,-0.5,1.0,0.7,-0.2,1.4,0.3,-0.6,1.1,0.5,-0.4,1.2,0.2,-0.7,0.6,1.0,-0.4,
  0.4,-1.1,0.0,-0.5,-1.4,0.2,-0.9,-0.3,-1.5,0.0,-1.1,-0.6,-1.9,-0.2,-1.3,-0.7,0.1,-1.6,-0.4,-1.2,-1.9,-0.7,-1.3,-0.3,-1.7,
  -1.5,-0.7,-1.8,-1.1,-0.3,-1.6,-1.2,-2.3,-0.6,-1.4,-1.9,-0.9,-1.7,-0.4,-1.2,-2.0,-0.8,-1.5,-0.1,-1.0,-1.5,-0.5,-1.2,-0.8,-0.4,
  -1.3,0.0,-0.7,0.5,-1.0,-0.2,0.2,-0.9,0.8,-0.5,0.4,1.0,-0.3,0.6,-0.8,1.1,0.3,0.7,1.3,-0.1,0.9,0.4,1.5,0.2,1.2,
  0.5,1.5,0.8,2.0,1.2,0.4,1.7,0.9,1.4,2.1,0.6,1.9,1.0,2.4,1.3,0.8,2.0,1.5,0.9,1.8,2.6,1.1,1.6,0.8,2.2,
  1.2,0.5,1.6,2.1,0.8,1.3,0.4,1.9,0.9,1.5,1.2,0.3,1.7,1.0,0.5,1.4,-0.2,0.6,1.0,0.2,0.7,-0.6,0.4,-0.3,-0.9,
  -0.6,-1.3,-0.8,-1.9,-1.3,-2.2,-0.9,-1.7,-2.5,-1.4,-0.8,-2.1,-1.6,-2.7,-1.3,-2.0,-1.1,-2.4,-1.5,-2.9,-1.9,-1.2,-2.3,-1.6,-1.0,
  -1.9,-1.1,-0.6,-1.5,-2.3,-1.0,-1.8,-0.7,-1.4,-2.1,-0.8,-1.5,-1.0,-1.9,-0.6,-1.2,-1.6,-0.8,-0.2,-1.0,0.3,-0.4,0.6,1.1,0.5,
  2.1,1.5,2.8,3.2,2.4,3.7,3.0,4.2,3.5,4.6
];
const residualsYa = [
  1.0,0.4,-0.2,0.7,-1.2,0.3,1.6,-0.5,0.9,-0.1,0.5,2.1,-1.6,0.8,0.2,-0.7,1.3,0.6,-0.3,1.0,0.1,-0.9,0.7,1.5,-0.4,
  0.8,-0.6,0.3,1.2,-1.0,0.5,0.0,1.6,-0.8,0.6,-0.2,1.0,0.4,-1.4,0.7,1.9,-0.5,0.2,1.1,-1.7,0.9,0.3,-2.6,0.6,-0.3,
  0.4,-0.9,0.8,-2.4,0.1,1.7,-0.6,0.5,-1.1,1.2,0.2,-0.4,0.9,2.3,-0.8,0.6,-1.4,0.0,0.7,-1.9,-0.3,0.4,-1.0,0.3,-0.6,
  -0.2,1.2,-0.7,0.1,-1.6,-0.4,0.5,-1.0,-0.1,-1.8,0.3,-0.6,0.7,-1.2,-0.3,0.6,2.6,-0.9,2.4,-0.2,0.4,-1.4,1.0,-0.5,-1.7,
  -2.2,-0.4,0.3,-1.0,1.4,-0.6,0.2,-0.1,-1.3,0.8,0.4,-0.5,2.0,0.1,-0.8,1.1,0.6,3.0,-0.3,0.9,1.5,0.3,-0.9,0.7,1.8,
  0.2,1.2,-0.4,0.8,2.8,0.4,-1.1,1.0,0.1,1.6,-0.6,0.6,1.3,-0.2,0.9,-1.5,0.5,1.7,0.0,-0.7,1.1,0.3,2.5,-0.3,0.7,
  1.4,0.2,-0.9,0.8,0.5,-0.4,1.2,0.0,0.7,-1.0,1.5,0.3,-0.2,0.9,1.8,-0.6,0.4,0.1,-1.2,0.6,1.0,-0.4,0.2,0.8,-0.8,
  0.3,-1.2,-0.2,0.9,-1.7,-0.5,0.4,-2.2,-0.9,0.0,-1.4,1.1,-0.6,-1.8,0.3,-1.1,-0.3,0.7,-1.6,-0.8,-0.1,-1.3,0.5,-0.9,-1.9,
  -0.6,-1.5,0.2,-1.0,-0.3,-1.8,0.6,-0.8,-1.2,0.1,-0.5,1.5,-1.4,-0.2,-2.0,-0.7,0.4,-1.1,0.0,-0.4,1.0,-0.9,0.3,-1.6,-0.1,
  0.2,-0.6,1.0,0.0,-1.1,0.5,-0.3,0.9,-1.9,0.4,-0.2,1.4,0.6,-0.8,1.7,0.3,-0.1,0.8,-1.2,1.1,0.4,1.6,-0.5,0.7,1.2,
  0.3,1.4,-0.3,1.0,0.6,1.8,0.2,-0.9,1.2,0.7,1.5,0.0,1.1,2.2,0.5,-0.4,1.3,0.8,1.7,2.2,0.3,1.0,1.4,-0.2,0.9,
  1.6,2.2,0.4,1.1,-0.5,1.4,0.7,1.9,0.2,1.2,0.9,-0.3,1.5,0.5,-1.9,1.0,0.1,-2.3,0.6,1.3,-0.6,0.3,0.9,-0.9,0.4,
  -0.2,1.8,0.5,-0.8,0.0,-1.3,0.7,-0.5,-1.5,0.2,-1.0,-0.3,-1.7,0.5,-0.9,-1.3,-0.4,-2.1,-1.0,0.1,-1.6,-0.7,-3.2,-1.1,0.6,
  -0.6,-1.9,-0.2,-1.3,-0.8,0.6,-1.5,-2.4,-0.4,-1.0,-2.4,0.3,-0.7,-1.6,-0.2,0.5,-1.1,-0.3,0.2,-0.8,0.6,0.0,-0.5,0.9,0.3,
  -0.3,0.7,1.2,-0.9,0.4,1.7,-1.9,0.1,0.9,1.4,-0.4,0.6,1.1,0.2,-1.2,1.6,0.5,1.0,-0.3,1.3,0.8,1.9,0.3,1.5,0.7,
  1.2,0.4,2.0,0.9,1.6,-0.2,1.3,2.6,0.7,1.1,2.7,0.5,1.8,1.0,0.2,1.5,2.3,0.8,1.2,0.0,1.7,0.6,1.4,1.9,0.3,
  1.0,1.6,-1.3,0.5,1.2,2.8,0.3,1.5,0.9,-0.6,1.3,0.4,-0.2,0.9,0.6,-1.6,0.1,0.7,1.3,-0.4,0.2,-1.0,0.5,-0.7,0.8,
  -0.3,-1.1,0.4,-0.6,-1.5,0.1,-1.0,-1.8,-0.4,-1.3,-2.0,-2.9,-0.8,-1.6,-2.2,-3.0,-1.2,-0.6,-1.9,-1.4,-2.4,-0.9,-1.7,-1.1,-2.1,
  -1.5,-0.8,-2.0,-1.2,-0.5,-1.8,-2.5,-1.0,-0.3,-1.6,-2.2,0.7,-1.3,-0.6,-1.9,-2.6,-1.0,-0.2,-1.4,0.1,-0.8,-1.2,-0.4,0.3,-1.6,
  -0.5,0.4,-0.9,0.8,-0.2,1.2,-1.5,0.3,1.0,-0.4,1.6,0.6,1.3,0.0,1.9,0.9,2.4,1.2,0.7,1.8,2.2,1.1,1.5,2.0,0.5,
  1.7,2.8,1.4,2.2,3.1,1.9,2.5,1.6,3.4,2.1,1.8
];
const residualsYb = [
  0.5,-0.1,0.8,0.2,-0.4,0.6,0.1,1.0,-0.2,0.4,0.7,-0.5,0.3,0.9,0.0,0.5,-0.3,0.8,0.2,0.6,-0.6,0.4,1.1,0.1,0.3,
  -0.2,0.6,0.2,0.9,-0.4,0.5,0.1,-0.7,0.7,0.3,1.0,-0.1,0.4,0.8,-0.5,0.2,0.6,-0.3,1.2,0.0,0.5,-0.8,0.3,0.7,-0.1,
  0.4,0.0,-0.6,0.5,0.2,-0.3,0.7,-0.1,0.3,-0.8,0.1,0.5,-0.4,0.0,-0.7,0.3,-0.2,0.6,-0.5,-0.1,-0.9,0.2,-0.4,-0.6,0.0,
  -0.5,-0.1,-0.8,0.2,-0.4,-0.7,0.1,-0.3,-1.0,-0.2,0.3,-0.6,-0.4,0.0,-0.9,-0.2,-0.5,0.4,-0.7,-0.3,-0.1,-0.8,0.2,-0.4,-0.6,
  -0.3,-0.7,0.0,-0.5,-0.2,0.3,-0.6,-0.1,0.4,-0.3,0.1,-0.4,0.5,0.0,0.3,-0.2,0.6,0.1,-0.3,0.4,0.7,0.0,0.3,0.8,0.2,
  0.5,0.1,0.8,0.3,-0.2,0.6,1.0,0.2,0.5,-0.1,0.7,0.3,1.1,0.4,0.0,0.6,0.9,0.2,-0.3,0.5,0.8,0.1,0.4,1.2,0.3,
  0.6,0.2,0.9,0.4,-0.1,0.7,0.3,1.0,0.5,0.0,0.6,0.8,0.2,-0.2,0.5,0.9,0.3,0.6,0.1,0.4,-0.3,0.7,0.2,0.5,0.0,
  0.2,-0.3,0.1,-0.6,-0.2,-0.8,-0.4,0.0,-0.7,-1.0,-0.5,-0.2,-0.9,-0.6,-1.2,-0.4,-0.8,-1.1,-0.6,-0.3,-0.9,-1.3,-0.7,-0.5,-1.0,
  -0.8,-1.2,-0.5,-0.9,-0.3,-1.1,-0.7,-0.4,-1.0,-0.6,-0.2,-0.9,-0.5,-0.8,-0.1,-0.6,-0.3,-0.7,0.0,-0.4,-0.2,-0.6,0.1,-0.3,0.0,
  -0.1,0.3,-0.3,0.2,0.5,0.0,-0.2,0.4,0.1,0.7,0.3,-0.1,0.5,0.2,0.8,0.4,0.1,0.6,0.9,0.3,0.7,0.5,1.0,0.4,0.6,
  0.8,1.1,0.5,1.3,0.7,1.0,0.4,1.2,0.9,0.6,1.4,0.8,1.1,0.5,1.3,0.9,0.7,1.2,1.0,0.6,1.5,0.8,1.1,0.7,1.3,
  1.0,0.7,1.2,0.5,0.9,1.1,0.4,0.8,0.6,1.0,0.3,0.7,0.5,0.9,0.2,0.6,0.4,0.0,0.5,0.3,0.7,0.1,0.4,-0.1,0.3,
  0.2,-0.1,0.4,0.0,-0.3,0.2,-0.5,-0.1,-0.6,-0.3,-0.8,-0.4,-0.2,-0.9,-0.6,-1.0,-0.5,-0.8,-1.2,-0.7,-0.9,-1.1,-0.6,-1.0,-0.8,
  -0.9,-1.2,-0.6,-1.0,-0.7,-1.3,-0.8,-0.5,-1.1,-0.7,-0.9,-0.4,-0.8,-0.6,-0.3,-0.7,-0.4,-0.1,-0.5,-0.2,0.0,-0.3,0.2,-0.1,0.1,
  0.2,-0.1,0.4,0.1,0.6,0.3,0.0,0.7,0.4,0.9,0.5,0.2,0.8,0.6,1.0,0.4,0.9,1.2,0.7,1.0,0.5,1.1,0.8,1.3,0.9,
  1.0,1.4,0.8,1.2,0.9,1.5,1.1,0.7,1.3,1.0,1.6,1.2,0.8,1.4,1.1,0.9,1.3,1.5,1.0,1.2,0.8,1.4,1.1,1.6,1.0,
  1.3,0.9,1.2,1.5,0.8,1.1,0.7,1.0,0.5,0.8,0.3,0.6,0.9,0.2,0.5,0.0,0.4,-0.2,0.3,0.1,-0.3,0.2,-0.4,0.0,-0.2,
  -0.5,-0.1,-0.7,-0.3,-0.9,-0.6,-1.1,-0.8,-1.3,-0.9,-1.2,-1.5,-1.0,-1.4,-1.7,-1.1,-1.3,-1.6,-1.2,-1.5,-1.8,-1.1,-1.4,-1.7,-1.3,
  -1.6,-1.2,-1.9,-1.4,-1.7,-1.1,-1.5,-1.8,-1.2,-1.4,-2.0,-1.6,-1.3,-1.9,-1.5,-1.1,-1.8,-1.4,-1.6,-1.2,-1.7,-1.3,-1.0,-1.5,-1.1,
  -0.8,-1.2,-0.5,-0.9,-0.2,-0.6,0.1,-0.3,0.4,0.0,0.7,0.3,1.0,0.6,1.3,0.9,1.5,1.2,1.8,1.4,1.9,1.6,2.1,1.7,2.2,
  2.0,1.6,2.3,1.9,2.6,2.1,2.4,2.0,2.9,2.2
];
const residualsYc = [
  -0.5,1.2,0.2,-0.9,0.8,-0.2,1.3,0.5,-1.1,0.6,0.0,1.0,-0.6,0.9,-0.3,1.4,0.1,-0.8,0.7,-0.1,1.1,-0.5,0.4,1.2,-0.7,
  1.2,-0.4,0.9,-0.9,0.4,1.4,-0.6,0.8,-0.1,1.1,-1.0,0.5,1.3,-0.3,0.7,-0.8,1.0,0.2,-0.5,1.3,-0.2,0.6,-1.1,0.9,0.3,
  -0.7,0.9,-0.3,1.1,-1.0,0.4,-0.5,1.0,-1.2,0.6,-0.2,-0.9,0.8,-0.4,1.2,-1.1,0.3,-0.6,0.9,-1.3,0.5,-0.3,0.7,-0.8,0.2,
  0.5,-0.9,0.3,-1.2,-0.3,0.6,-1.4,0.1,-0.7,0.8,-1.0,0.2,-0.5,-1.3,0.4,-0.8,0.7,-1.1,-0.2,0.5,-0.9,0.3,-1.3,0.6,-0.4,
  0.2,-1.0,0.7,-0.5,-1.2,0.9,-0.3,0.5,-0.9,1.1,-0.1,-0.7,0.6,-1.1,1.0,-0.4,0.3,-0.8,1.2,0.1,-0.6,1.3,-0.2,0.4,1.0,
  -0.3,0.9,1.3,-0.5,0.6,1.1,-0.2,1.4,0.3,-0.7,1.0,0.5,-0.4,1.2,0.1,0.8,-0.8,1.5,0.4,-0.3,0.9,1.3,-0.1,0.6,1.1,
  0.9,-0.5,1.1,0.3,-0.8,1.3,0.6,-0.3,1.0,0.2,1.4,-0.6,0.7,-0.1,1.2,0.4,-0.9,0.8,1.1,-0.2,0.5,1.3,-0.7,0.3,0.9,
  -0.2,0.5,-1.3,0.1,-0.9,-0.4,-1.6,0.2,-1.1,-0.5,0.4,-1.4,-0.8,0.0,-1.5,-0.3,-1.1,0.3,-0.9,-1.7,-0.2,-0.7,-1.4,0.1,-0.6,
  -1.3,0.1,-0.9,-1.6,-0.2,-0.7,0.3,-1.2,-0.5,-1.8,0.0,-1.0,-0.4,-1.5,0.4,-0.8,-1.3,-0.1,-0.6,-1.2,0.5,-0.3,-1.0,0.2,-0.5,
  0.7,-0.4,0.3,1.1,-0.6,0.5,-0.1,1.2,-0.5,0.8,0.1,-0.7,1.0,0.4,-0.2,1.3,0.6,-0.3,1.1,0.2,1.5,-0.1,0.9,0.3,1.4,
  1.6,0.4,1.2,-0.1,1.5,0.7,1.9,0.2,1.1,1.7,0.5,1.3,-0.2,1.0,1.8,0.6,1.4,0.0,1.2,0.8,1.9,0.3,1.6,0.9,0.1,
  0.4,1.5,-0.2,1.1,0.6,1.7,0.0,1.3,-0.4,0.9,1.5,0.2,1.2,-0.6,0.7,1.4,0.1,0.9,-0.3,1.1,0.4,-0.7,0.6,0.2,-0.5,
  0.6,-0.5,0.2,-1.1,0.4,-0.7,-1.4,0.0,-0.9,-0.3,-1.6,-0.6,0.1,-1.2,-0.4,-1.7,-0.8,0.2,-1.3,-0.5,-1.9,-1.0,-0.2,-1.5,-0.7,
  -1.4,-0.3,-1.1,0.1,-1.6,-0.6,-1.2,0.3,-0.9,-1.8,-0.4,-1.1,0.2,-0.7,-1.3,0.0,-0.5,-1.0,0.4,-0.3,-0.8,0.6,-0.1,0.4,-0.4,
  0.6,-0.4,0.9,0.2,-0.6,1.1,0.4,-0.2,1.3,0.0,0.8,1.5,-0.3,1.0,0.5,1.4,-0.1,0.7,1.6,0.3,1.2,0.6,1.8,0.2,1.4,
  0.6,1.7,1.0,2.0,0.4,1.5,0.9,1.9,0.3,1.3,0.8,2.1,1.1,0.5,1.6,1.2,2.0,0.7,1.4,1.0,1.8,0.4,1.2,0.8,1.5,
  0.5,1.2,0.8,1.9,0.2,1.1,0.6,1.7,0.0,0.9,1.4,-0.3,0.7,0.3,1.1,-0.5,0.5,0.0,-0.8,0.4,-0.4,0.2,-1.1,-0.3,-0.7,
  -0.9,-0.2,-1.3,-0.6,-1.9,-0.4,-1.1,-1.6,-0.8,-2.2,-1.2,-0.7,-1.8,-1.3,-2.4,-0.9,-1.5,-2.0,-1.0,-1.7,-2.2,-1.3,-0.8,-1.9,-1.5,
  -1.1,-1.9,-1.4,-2.3,-0.9,-1.7,-1.2,-2.1,-1.5,-0.8,-1.9,-1.3,-2.4,-1.0,-1.6,-1.2,-2.0,-0.7,-1.5,-1.1,-1.8,-0.6,-1.3,-0.9,-0.4,
  -1.0,-0.2,-0.6,0.3,-0.3,0.7,0.0,1.1,0.4,1.4,0.8,0.2,1.3,1.7,0.9,1.9,1.2,2.2,1.5,0.9,2.3,1.7,1.3,2.4,1.9,
  1.4,2.5,1.9,3.0,2.3,1.7,2.7,2.0,3.1,2.4
];
const residualsYd = [
  0.6,-0.8,0.9,0.0,1.2,-0.4,0.5,-1.0,0.8,0.3,-0.6,1.3,0.1,-0.3,1.0,-0.9,0.6,1.4,-0.2,0.4,-0.7,0.9,0.2,-0.4,0.8,
  -0.7,0.9,0.1,-0.4,1.3,0.5,-1.1,0.7,0.2,-0.5,1.1,0.6,-0.8,0.3,1.2,-0.2,0.8,-1.0,0.4,0.9,-0.6,1.3,0.0,-0.4,1.0,
  0.8,-0.4,1.1,-0.8,0.3,-0.2,0.9,-1.3,0.4,0.1,-0.7,1.0,-0.4,0.6,-1.0,0.2,0.8,-0.6,0.4,-0.9,0.6,-0.5,0.1,-1.2,0.5,
  -1.1,0.4,-0.6,0.7,-0.9,0.2,-0.4,-1.3,0.5,-0.8,0.0,-1.1,0.6,-0.3,-0.9,0.3,-1.2,0.1,-0.7,0.6,-0.2,-1.0,0.4,-0.6,-1.4,
  -0.5,0.6,-0.9,0.2,-0.3,-1.1,0.4,-0.6,0.8,-0.4,0.5,-1.0,0.3,0.9,-0.5,0.6,-0.2,1.1,-0.7,0.7,0.2,-0.4,1.1,0.0,0.6,
  1.1,-0.2,0.5,1.2,0.0,-0.6,0.9,0.4,1.3,-0.4,0.7,1.1,0.0,-0.5,1.0,0.6,-0.2,1.2,0.3,0.9,-0.6,0.5,1.4,0.2,-0.3,
  0.2,1.1,-0.4,0.6,1.4,-0.2,0.8,0.1,-0.6,1.2,0.4,-0.3,1.0,0.6,-0.7,0.9,0.2,1.3,-0.4,0.7,0.1,-0.8,1.1,-0.2,0.4,
  -0.8,0.1,-0.5,-1.2,0.3,-1.0,-0.2,-1.5,-0.7,0.1,-1.2,-0.4,-1.8,-0.9,-0.1,-1.3,-0.6,-1.6,-0.3,-1.1,-1.5,-0.5,0.1,-1.2,-0.8,
  -0.2,-1.4,-0.7,0.2,-1.1,-0.5,-1.6,-0.1,-0.9,-1.3,-0.3,0.2,-1.0,-0.6,-1.4,0.0,-0.7,-1.1,0.3,-0.5,-1.0,-0.2,-0.8,0.4,-0.4,
  -0.5,0.9,0.1,-0.3,1.0,0.4,-0.7,0.8,0.2,1.2,-0.4,0.6,1.0,-0.1,0.7,1.3,-0.2,0.9,0.5,1.4,0.2,1.1,0.6,1.6,0.8,
  0.3,1.2,0.8,1.8,0.5,1.3,0.0,1.6,0.9,0.4,1.4,1.9,0.6,1.1,0.2,1.5,1.0,1.8,0.4,1.3,0.7,1.6,0.3,1.2,1.7,
  1.3,0.2,1.0,1.6,0.5,-0.1,1.2,0.7,1.5,0.3,-0.2,1.0,0.6,1.3,-0.4,0.8,0.3,1.1,0.5,-0.6,0.9,0.1,-0.3,0.7,0.0,
  -0.6,0.3,-1.0,0.0,-0.6,0.5,-1.2,-0.4,-0.8,-1.5,0.1,-1.1,-0.6,-1.8,-0.3,-1.0,-1.4,-0.6,-0.2,-1.3,-0.9,-1.7,-0.4,-1.2,-1.6,
  -0.3,-1.0,-1.5,-0.5,-0.9,-1.9,-0.2,-1.2,-0.7,-1.4,-0.4,-1.6,-0.9,-0.1,-1.1,-0.6,-1.3,0.2,-0.7,0.0,-0.4,-1.0,0.3,-0.6,0.5,
  -0.4,0.3,1.0,-0.2,0.6,1.2,0.1,0.8,-0.5,1.4,0.5,0.9,0.0,1.3,0.6,-0.1,1.1,0.4,1.6,0.8,0.2,1.4,1.0,0.5,1.8,
  1.6,0.9,1.3,0.5,1.8,1.1,0.6,1.4,2.2,1.0,1.5,0.3,1.9,1.2,0.7,1.7,1.0,0.4,1.6,2.0,1.1,0.7,1.5,0.9,1.3,
  1.4,0.4,1.7,0.9,0.1,1.4,0.8,0.3,1.2,0.5,-0.2,0.9,0.2,1.0,-0.4,0.6,-0.1,0.4,-0.6,0.3,0.0,-0.9,0.1,-0.5,-0.1,
  -0.6,-1.4,-0.3,-1.0,-0.5,-1.7,-1.1,-0.6,-1.9,-1.4,-0.9,-2.1,-1.5,-1.0,-1.8,-2.5,-1.2,-0.8,-1.6,-2.3,-1.3,-1.9,-1.0,-2.2,-1.6,
  -2.1,-1.3,-1.7,-0.9,-2.4,-1.5,-1.0,-2.0,-1.3,-2.6,-1.7,-1.1,-1.9,-1.4,-2.2,-0.9,-1.6,-1.2,-2.1,-1.4,-0.8,-1.7,-1.0,-1.5,-0.7,
  -0.3,-1.1,0.2,-0.7,0.5,-0.1,0.9,0.3,-0.4,1.2,0.6,1.6,0.2,1.0,2.0,1.3,0.6,1.7,2.1,1.1,1.8,2.5,1.4,2.0,2.7,
  1.6,2.2,2.9,1.8,2.4,3.0,1.9,2.6,2.2,2.8
];

// axis ticks
const cloudXTicks = [-5, 0, 5];
const cloudYTicks = [-5, 0, 5];
const indexTicks = [0, 500, 1000, 1500, 2000];
const resXTicks = [-4, -2, 0, 2, 4];
const resYTicks = [-3, -2, -1, 0, 1, 2, 3];

const FONT = '"Liberation Sans", Arial, Helvetica, sans-serif';
const fmt = v => (v < 0 ? '\u2212' + Math.abs(v) : String(v));

// R-style box, ticks and titles drawn on top of the chart area
const rAxes = {
  id: 'rAxes',
  afterDraw(chart, args, o) {
    const { ctx, chartArea: a } = chart;
    const xs = chart.scales.x, ys = chart.scales.y;
    const L = Math.round(a.left) + 0.5, T = Math.round(a.top) + 0.5;
    const R = Math.round(a.right) + 0.5, B = Math.round(a.bottom) + 0.5;
    ctx.save();
    ctx.strokeStyle = '#262626';
    ctx.lineWidth = 1;
    ctx.strokeRect(L, T, R - L, B - T);
    ctx.fillStyle = '#111';
    ctx.textAlign = 'center';
    ctx.textBaseline = 'middle';
    ctx.font = '12.5px ' + FONT;
    o.xTicks.forEach(v => {
      const px = Math.round(xs.getPixelForValue(v)) + 0.5;
      ctx.beginPath(); ctx.moveTo(px, B); ctx.lineTo(px, B + 7); ctx.stroke();
      ctx.fillText(fmt(v), px, B + 22);
    });
    o.yTicks.forEach(v => {
      const py = Math.round(ys.getPixelForValue(v)) + 0.5;
      ctx.beginPath(); ctx.moveTo(L - 7, py); ctx.lineTo(L, py); ctx.stroke();
      ctx.save();
      ctx.translate(L - 20.5, py);
      ctx.rotate(-Math.PI / 2);
      ctx.fillText(fmt(v), 0, 0);
      ctx.restore();
    });
    ctx.font = '12px ' + FONT;
    if (o.xTitle) ctx.fillText(o.xTitle, (L + R) / 2, B + 51);
    if (o.yTitle) {
      ctx.save();
      ctx.translate(L - 48.5, (T + B) / 2);
      ctx.rotate(-Math.PI / 2);
      ctx.fillText(o.yTitle, 0, 0);
      ctx.restore();
    }
    if (o.title) {
      ctx.font = 'bold 14.4px ' + FONT;
      ctx.fillText(o.title, (L + R) / 2, T - 28.5);
    }
    ctx.restore();
  }
};

function makeChart(id, datasets, pad, xr, yr, axesOpts) {
  new Chart(document.getElementById(id), {
    type: 'scatter',
    data: { datasets },
    options: {
      responsive: false,
      animation: false,
      events: [],
      layout: { padding: pad },
      scales: {
        x: { type: 'linear', display: false, min: xr[0], max: xr[1] },
        y: { type: 'linear', display: false, min: yr[0], max: yr[1] }
      },
      plugins: { legend: { display: false }, tooltip: { enabled: false }, rAxes: axesOpts }
    },
    plugins: [rAxes]
  });
}

const circles = (pts, color) => ({
  data: pts,
  pointStyle: 'circle',
  pointRadius: 3.2,
  borderWidth: 1,
  borderColor: color,
  backgroundColor: 'rgba(0,0,0,0)'
});
const curve = (pts, color, width, tension) => ({
  data: pts.map(([x, y]) => ({ x, y })),
  showLine: true,
  pointRadius: 0,
  borderColor: color,
  borderWidth: width,
  tension: tension,
  fill: false
});
// observation index for each reading of a residual set
const byIndex = (vals, first) => vals.map((v, i) => ({ x: first + i * RES_STEP, y: v }));

const cloudData = cloudPts.map(([x, y]) => ({ x, y }));
const cloudX = [-9.47, 7.93], cloudY = [-7.8, 9.19];

makeChart('spiralFit',
  [circles(cloudData, '#bdbdbd'), curve(spiralPts, '#111', 1.3, 0.4)],
  { left: 62, top: 13, right: 6, bottom: 73 }, cloudX, cloudY,
  { xTicks: cloudXTicks, yTicks: cloudYTicks, xTitle: 'spdat$x', yTitle: 'spdat$y' });

makeChart('curveFit',
  [circles(cloudData, '#bdbdbd'), curve(fitPts, '#d8262b', 1.6, 0.3)],
  { left: 84, top: 13, right: 21, bottom: 73 }, cloudX, cloudY,
  { xTicks: cloudXTicks, yTicks: cloudYTicks, xTitle: 'spdat$x', yTitle: 'spdat$y' });

makeChart('resX',
  [circles([].concat(byIndex(residualsXa, 1), byIndex(residualsXc, 2), byIndex(residualsXb, 3), byIndex(residualsXd, 4)), '#000')],
  { left: 62, top: 59, right: 6, bottom: 29 }, [-85.6, 2123.6], [-4.58, 5.91],
  { xTicks: indexTicks, yTicks: resXTicks, title: 'Residuals in x\u2212direction' });

makeChart('resY',
  [circles([].concat(byIndex(residualsYa, 1), byIndex(residualsYc, 2), byIndex(residualsYb, 3), byIndex(residualsYd, 4)), '#000')],
  { left: 84, top: 59, right: 21, bottom: 29 }, [-82, 2127], [-3.48, 3.72],
  { xTicks: indexTicks, yTicks: resYTicks, title: 'Residuals in y\u2212direction' });
</script>
</body>
</html>
